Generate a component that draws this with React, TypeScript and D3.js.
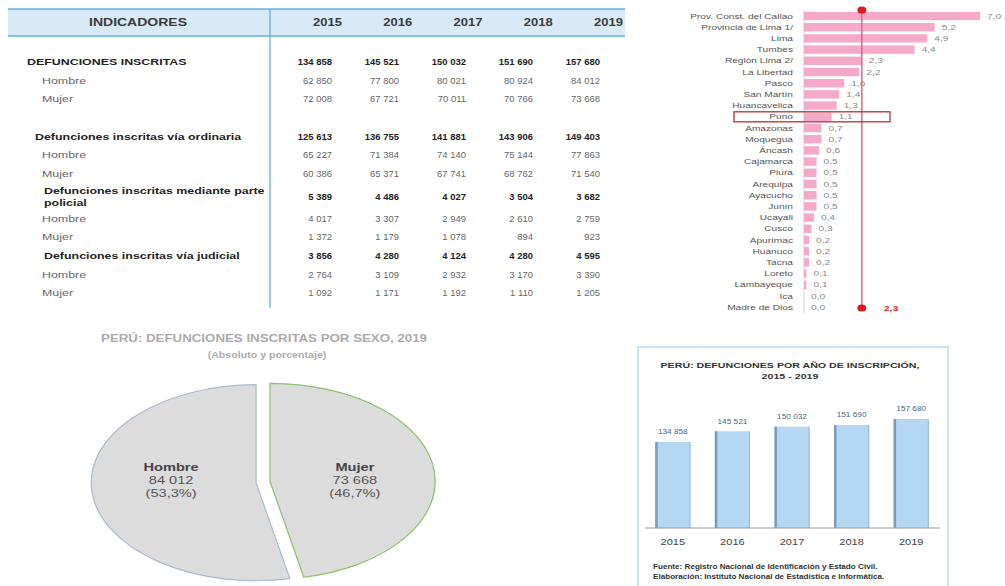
import * as d3 from "d3";

const FONT = "'Liberation Sans', Arial, Helvetica, sans-serif";

// --- tabla: defunciones inscritas 2015-2019
const anios = ["2015", "2016", "2017", "2018", "2019"];
const indicadores = [
  "DEFUNCIONES INSCRITAS",
  "Hombre",
  "Mujer",
  "Defunciones inscritas vía ordinaria",
  "Hombre",
  "Mujer",
  "Defunciones inscritas mediante parte|policial",
  "Hombre",
  "Mujer",
  "Defunciones inscritas vía judicial",
  "Hombre",
  "Mujer",
];
const totalInscritas = [134858, 145521, 150032, 151690, 157680];
const hombreInscritas = [62850, 77800, 80021, 80924, 84012];
const mujerInscritas = [72008, 67721, 70011, 70766, 73668];
const totalOrdinaria = [125613, 136755, 141881, 143906, 149403];
const hombreOrdinaria = [65227, 71384, 74140, 75144, 77863];
const mujerOrdinaria = [60386, 65371, 67741, 68762, 71540];
const totalPolicial = [5389, 4486, 4027, 3504, 3682];
const hombrePolicial = [4017, 3307, 2949, 2610, 2759];
const mujerPolicial = [1372, 1179, 1078, 894, 923];
const totalJudicial = [3856, 4280, 4124, 4280, 4595];
const hombreJudicial = [2764, 3109, 2932, 3170, 3390];
const mujerJudicial = [1092, 1171, 1192, 1110, 1205];

// --- tasa por departamento
const regiones = [
  "Prov. Const. del Callao", "Provincia de Lima 1/", "Lima", "Tumbes", "Región Lima 2/",
  "La Libertad", "Pasco", "San Martín", "Huancavelica", "Puno", "Amazonas", "Moquegua",
  "Áncash", "Cajamarca", "Piura", "Arequipa", "Ayacucho", "Junín", "Ucayali", "Cusco",
  "Apurímac", "Huánuco", "Tacna", "Loreto", "Lambayeque", "Ica", "Madre de Dios",
];
const tasas = [
  7.0, 5.2, 4.9, 4.4, 2.3, 2.2, 1.6, 1.4, 1.3, 1.1, 0.7, 0.7, 0.6, 0.5, 0.5, 0.5, 0.5,
  0.5, 0.4, 0.3, 0.2, 0.2, 0.2, 0.1, 0.1, 0.0, 0.0,
];
const promedioNacional = 2.3;
const regionResaltada = "Puno";

// --- pie por sexo 2019
const sexos = ["Mujer", "Hombre"];
const defuncionesSexo = [73668, 84012];
const porcentajesSexo = ["46,7%", "53,3%"];

const locale = d3.formatLocale({ decimal: ",", thousands: " ", grouping: [3], currency: ["", ""] });
const fmtNum = locale.format(",d");
const fmtDec = locale.format(".1f");

function T({ x, y, children, size = 9, weight = "normal", fill = "#333", anchor = "start", sx = 1.3 }: any) {
  return (
    <text
      transform={`translate(${x},${y}) scale(${sx},1)`}
      fontSize={size}
      fontWeight={weight}
      fill={fill}
      textAnchor={anchor}
      dominantBaseline="central"
      fontFamily={FONT}
    >
      {children}
    </text>
  );
}

function Tabla() {
  const filas = [
    totalInscritas, hombreInscritas, mujerInscritas,
    totalOrdinaria, hombreOrdinaria, mujerOrdinaria,
    totalPolicial, hombrePolicial, mujerPolicial,
    totalJudicial, hombreJudicial, mujerJudicial,
  ];
  const negrita = (i: number) => i % 3 === 0;
  const filaY = [62, 81, 99, 137, 155, 174, 197, 219, 237, 256, 275, 293];
  const sangria = [27, 42, 42, 35, 42, 42, 44, 42, 42, 44, 42, 42];
  const xVal = d3.scalePoint().domain(anios).range([332, 600]);
  const xAnio = d3.scalePoint().domain(anios).range([342, 623]);

  return (
    <g>
      <rect x={8} y={9} width={617} height={27} fill="#d8eaf7" />
      <line x1={8} x2={625} y1={9} y2={9} stroke="#5eb0e2" strokeWidth={1.5} />
      <line x1={8} x2={625} y1={36} y2={36} stroke="#5eb0e2" strokeWidth={1.5} />
      <line x1={270} x2={270} y1={9} y2={308} stroke="#5eb0e2" strokeWidth={1.3} />
      <T x={138} y={23} size={10} weight="bold" anchor="middle" sx={1.4} fill="#3a3a3a">INDICADORES</T>
      {anios.map((a) => (
        <T key={a} x={xAnio(a)} y={23} size={10} weight="bold" anchor="end" sx={1.3} fill="#3a3a3a">{a}</T>
      ))}
      {indicadores.map((lab, i) => {
        const partes = lab.split("|");
        const b = negrita(i);
        return (
          <g key={i}>
            {partes.length === 1 ? (
              <T x={sangria[i]} y={filaY[i]} size={9} weight={b ? "bold" : "normal"} sx={1.38} fill={b ? "#222" : "#666"}>{lab}</T>
            ) : (
              partes.map((p, k) => (
                <T key={k} x={sangria[i]} y={filaY[i] - 6 + k * 12} size={9} weight="bold" sx={1.38} fill="#222">{p}</T>
              ))
            )}
            {filas[i].map((v, j) => (
              <T key={j} x={xVal(anios[j])} y={filaY[i]} size={9} weight={b ? "bold" : "normal"} anchor="end" sx={1.05} fill={b ? "#222" : "#666"}>
                {fmtNum(v)}
              </T>
            ))}
          </g>
        );
      })}
    </g>
  );
}

function BarrasRegiones() {
  const y = d3.scaleBand().domain(regiones).range([10.4, 312.8]).paddingInner(0.25).paddingOuter(0.125);
  const x = d3.scaleLinear().domain([0, 7]).range([804, 980]);
  const xm = x(promedioNacional);
  const yp = (y(regionResaltada) as number) + y.bandwidth() / 2;
  return (
    <g>
      <line x1={x(0)} x2={x(0)} y1={10} y2={313} stroke="#c8c8c8" strokeWidth={0.8} />
      {regiones.map((r, i) => {
        const cy = (y(r) as number) + y.bandwidth() / 2;
        return (
          <g key={r}>
            <T x={793} y={cy} size={7.8} anchor="end" sx={1.3} fill="#555">{r}</T>
            <rect x={x(0)} y={y(r)} width={Math.max(0, x(tasas[i]) - x(0))} height={y.bandwidth()} fill="#f5a9c9" />
            <T x={x(tasas[i]) + 7} y={cy} size={7.8} sx={1.3} fill="#888">{fmtDec(tasas[i])}</T>
          </g>
        );
      })}
      <line x1={xm} x2={xm} y1={10} y2={308} stroke="#e4667a" strokeWidth={1.5} />
      <ellipse cx={xm} cy={10} rx={4.5} ry={3.6} fill="#e3141e" />
      <ellipse cx={xm} cy={308} rx={4.5} ry={3.6} fill="#e3141e" />
      <T x={xm + 22} y={308} size={8} weight="bold" sx={1.3} fill="#d62a2a">{fmtDec(promedioNacional)}</T>
      <rect x={734} y={yp - 5} width={156} height={10} fill="none" stroke="#b8302e" strokeWidth={1.3} />
    </g>
  );
}

function PieSexo() {
  const cx = 263, cy = 482, rx = 165, ry = 98, sep = 7;
  const pie = d3.pie<number>().sort(null).value((d) => d);
  const arcos = pie(defuncionesSexo);
  const arc = d3.arc<any>().innerRadius(0).outerRadius(1);
  const bordes = ["#8cc06a", "#a9b9cf"];
  return (
    <g>
      <T x={264} y={338} size={10} weight="bold" anchor="middle" sx={1.33} fill="#ababab">
        PERÚ: DEFUNCIONES INSCRITAS POR SEXO, 2019
      </T>
      <T x={267} y={355} size={9.5} weight="bold" anchor="middle" sx={1.12} fill="#ababab">
        (Absoluto y porcentaje)
      </T>
      {arcos.map((a, i) => {
        const mid = (a.startAngle + a.endAngle) / 2;
        const dx = Math.sin(mid) * sep;
        const dy = -Math.cos(mid) * sep;
        const lx = cx + Math.sin(mid) * 0.56 * rx;
        return (
          <g key={sexos[i]}>
            <path
              d={arc(a) as string}
              transform={`translate(${cx + dx},${cy + dy}) scale(${rx},${ry})`}
              fill="#dcdcdc"
              stroke={bordes[i]}
              strokeWidth={1.2}
              vectorEffect="non-scaling-stroke"
            />
            <T x={lx} y={cy - 15} size={11.5} weight="bold" anchor="middle" sx={1.27} fill="#444">{sexos[i]}</T>
            <T x={lx} y={cy - 2} size={11.5} anchor="middle" sx={1.27} fill="#555">{fmtNum(defuncionesSexo[i])}</T>
            <T x={lx} y={cy + 11} size={11.5} anchor="middle" sx={1.27} fill="#555">({porcentajesSexo[i]})</T>
          </g>
        );
      })}
    </g>
  );
}

function BarrasAnuales() {
  const x = d3.scaleBand().domain(anios).range([643, 941]).paddingInner(0.41).paddingOuter(0.205);
  const y = d3.scaleLinear().domain([49400, 157680]).range([528, 419]);
  return (
    <g>
      <rect x={638} y={347} width={310} height={250} fill="#fff" stroke="#b5daf1" strokeWidth={1.5} />
      <T x={790} y={365} size={8} weight="bold" anchor="middle" sx={1.33} fill="#333">
        PERÚ: DEFUNCIONES POR AÑO DE INSCRIPCIÓN,
      </T>
      <T x={790} y={376} size={8} weight="bold" anchor="middle" sx={1.33} fill="#333">2015 - 2019</T>
      {anios.map((a, i) => {
        const x0 = x(a) as number;
        const yt = y(totalInscritas[i]);
        return (
          <g key={a}>
            <rect x={x0} y={yt} width={x.bandwidth()} height={y.range()[0] - yt} fill="#b4d8f3" />
            <rect x={x0} y={yt} width={2.5} height={y.range()[0] - yt} fill="#7f9cb6" />
            <rect x={x0 + x.bandwidth() - 1} y={yt} width={1} height={y.range()[0] - yt} fill="#8fb8d8" />
            <T x={x0 + x.bandwidth() / 2} y={yt - 10} size={7.5} anchor="middle" sx={1.1} fill="#4a6580">
              {fmtNum(totalInscritas[i])}
            </T>
            <T x={x0 + x.bandwidth() / 2} y={542} size={8.5} anchor="middle" sx={1.3} fill="#444">{a}</T>
          </g>
        );
      })}
      <line x1={645} x2={940} y1={528} y2={528} stroke="#9a9a9a" strokeWidth={1} />
      <T x={653} y={567} size={6.5} weight="bold" sx={1.25} fill="#333">
        Fuente: Registro Nacional de Identificación y Estado Civil.
      </T>
      <T x={653} y={577} size={6.5} weight="bold" sx={1.25} fill="#333">
        Elaboración: Instituto Nacional de Estadística e Informática.
      </T>
    </g>
  );
}

export default function App() {
  return (
    <svg
      width={1005}
      height={586}
      viewBox="0 0 1005 586"
      style={{ position: "absolute", left: 0, top: 0, background: "#fff" }}
    >
      <Tabla />
      <BarrasRegiones />
      <PieSexo />
      <BarrasAnuales />
    </svg>
  );
}
